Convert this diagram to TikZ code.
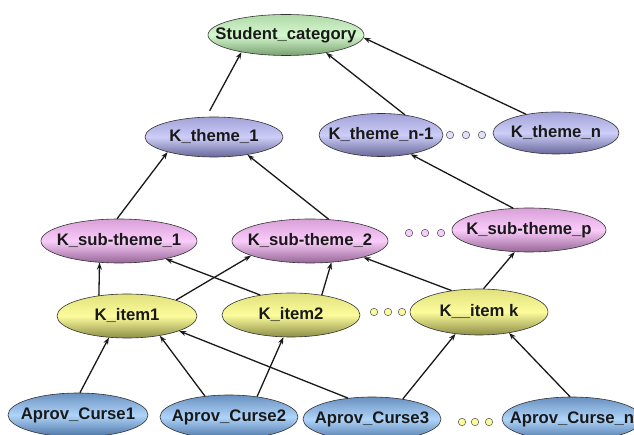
\documentclass[tikz,border=0pt]{standalone}
\usepackage{fontspec}
\setmainfont{Liberation Sans}
\usetikzlibrary{shapes.geometric,arrows.meta}

% fill colours of the levels: top / middle / bottom of the gradient
\definecolor{grT}{HTML}{B0D8A8}\definecolor{grM}{HTML}{D4F8CE}\definecolor{grB}{HTML}{78A070}
\definecolor{lvT}{HTML}{A2A2D8}\definecolor{lvM}{HTML}{CDCDF8}\definecolor{lvB}{HTML}{68689A}
\definecolor{pkT}{HTML}{D8A0D8}\definecolor{pkM}{HTML}{FACCFA}\definecolor{pkB}{HTML}{966696}
\definecolor{ylT}{HTML}{E0E07E}\definecolor{ylM}{HTML}{FCFC9C}\definecolor{ylB}{HTML}{8E8E48}
\definecolor{blT}{HTML}{6A90C0}\definecolor{blM}{HTML}{AED4FA}\definecolor{blB}{HTML}{4C74A4}

% label of zero width, so the ellipse keeps the size it is given
\newcommand{\lbl}[1]{\makebox[0pt]{#1}}

\begin{document}
\begin{tikzpicture}[x=1pt,y=-1pt,
  kn/.style={ellipse, draw=black!80, line width=0.6pt, inner sep=0pt,
    text height=12pt, text depth=3.5pt,
    font=\fontsize{16.7}{20}\selectfont\bfseries, text=black!90},
  catnode/.style={kn, top color=grT, bottom color=grB, middle color=grM},
  themenode/.style={kn, top color=lvT, bottom color=lvB, middle color=lvM},
  subnode/.style={kn, top color=pkT, bottom color=pkB, middle color=pkM},
  itemnode/.style={kn, top color=ylT, bottom color=ylB, middle color=ylM},
  cursenode/.style={kn, top color=blT, bottom color=blB, middle color=blM},
  sz/.style 2 args={minimum width=#1pt, minimum height=#2pt},
  gap/.style={circle, inner sep=0pt, minimum size=7.5pt, draw=black!60, line width=0.6pt, fill=#1},
  conn/.style={-{Stealth[length=7pt,width=5pt]}, line width=1.3pt, black!90}
]
\useasboundingbox (0,0) rectangle (634,435);
\clip (0,0) rectangle (634,435);

% top level
\node[catnode, sz={156}{41}] (sc) at (286,35) {\lbl{Student\_category}};

% themes
\node[themenode, sz={138}{40}] (t1)  at (214,137) {\lbl{K\_theme\_1}};
\node[themenode, sz={124}{43}] (tn1) at (381,135) {\lbl{K\_theme\_n-1}};
\node[themenode, sz={126}{42}] (tn)  at (556,133) {\lbl{K\_theme\_n}};
\node[gap=lvM!60!white] (g1) at (450,135) {};
\node[gap=lvM!60!white] (g2) at (466,135) {};
\node[gap=lvM!60!white] (g3) at (482,135) {};

% sub-themes
\node[subnode, sz={156}{44}] (s1) at (119,241) {\lbl{K\_sub-theme\_1}};
\node[subnode, sz={156}{44}] (s2) at (310,241) {\lbl{K\_sub-theme\_2}};
\node[subnode, sz={154}{44}] (sp) at (529,230) {\lbl{K\_sub-theme\_p}};
\node[gap=pkM] (g4) at (409,233) {};
\node[gap=pkM] (g5) at (425,233) {};
\node[gap=pkM] (g6) at (441,233) {};

% items
\node[itemnode, sz={140}{44}] (i1) at (127,316) {\lbl{K\_item1}};
\node[itemnode, sz={138}{44}] (i2) at (291,315) {\lbl{K\_item2}};
\node[itemnode, sz={138}{46}] (ik) at (479,312) {\lbl{K\_\_item k}};
\node[gap=ylM] (g7) at (374,312) {};
\node[gap=ylM] (g8) at (388,312) {};
\node[gap=ylM] (g9) at (402,312) {};

% courses
\node[cursenode, sz={140}{44}] (a1) at (78,415)  {\lbl{Aprov\_Curse1}};
\node[cursenode, sz={138}{44}] (a2) at (229,417) {\lbl{Aprov\_Curse2}};
\node[cursenode, sz={138}{44}] (a3) at (372,419) {\lbl{Aprov\_Curse3}};
\node[cursenode, sz={140}{44}] (an) at (572,419) {\lbl{Aprov\_Curse\_n}};
\node[gap=ylM] (g10) at (462,422) {};
\node[gap=ylM] (g11) at (475,422) {};
\node[gap=ylM] (g12) at (489,422) {};

% themes -> category
\draw[conn] ([yshift=6pt]t1.102) -- (sc.201);
\draw[conn] (tn1.40) -- (sc.-24);
\draw[conn] (tn.148) -- (sc.-2);

% sub-themes -> themes
\draw[conn] (s1.95) -- (t1.198);
\draw[conn] (s2.49) -- (t1.-28);
\draw[conn] (sp.126) -- (tn1.-33);

% items -> sub-themes
\draw[conn] (i1.144) -- (s1.228);
\draw[conn] (i1.18) -- (s2.194);
\draw[conn] (i2.147) -- (s1.-21);
\draw[conn] (i2.33) -- (s2.-45);
\draw[conn] (ik.142) -- (s2.-17);
\draw[conn] (ik.79) -- (sp.237);

% courses -> items
\draw[conn] (a1.85) -- (i1.230);
\draw[conn] (a2.139) -- (i1.-31);
\draw[conn] (a2.36) -- (i2.251);
\draw[conn] (a3.139) -- (i1.-16);
\draw[conn] (a3.33) -- (ik.223);
\draw[conn] (an.95) -- (ik.-35);
\end{tikzpicture}
\end{document}
